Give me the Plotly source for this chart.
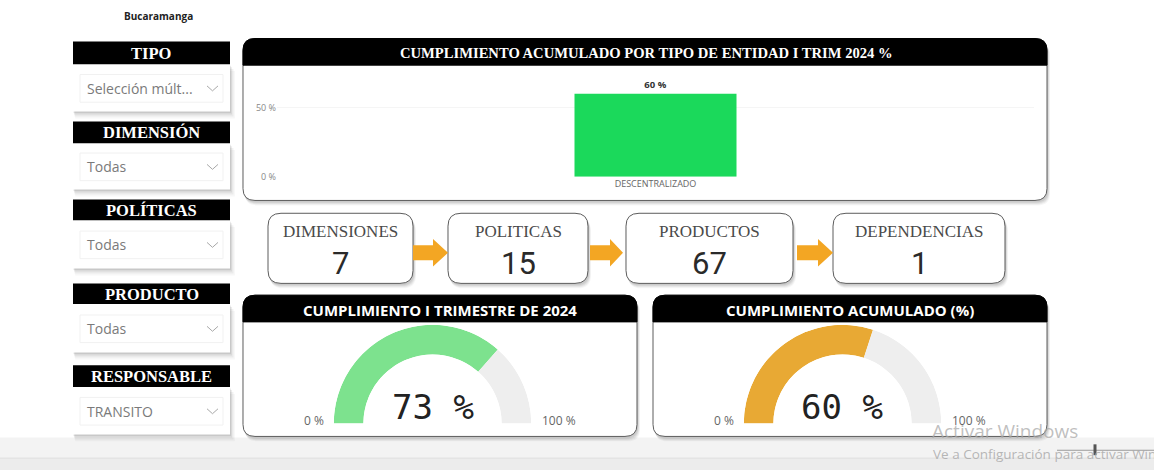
import plotly.graph_objects as go

W, H = 1154, 476

# ---------------- data ----------------
report_title = "Bucaramanga"
slicer_titles = ["TIPO", "DIMENSIÓN", "POLÍTICAS", "PRODUCTO", "RESPONSABLE"]
slicer_values = ["Selección múlt...", "Todas", "Todas", "Todas", "TRANSITO"]

bar_title = "CUMPLIMIENTO ACUMULADO POR TIPO DE ENTIDAD I TRIM 2024 %"
bar_categories = ["DESCENTRALIZADO"]
bar_values = [60]
bar_tick_values = [0, 50]
bar_tick_labels = ["0 %", "50 %"]

kpi_labels = ["DIMENSIONES", "POLITICAS", "PRODUCTOS", "DEPENDENCIAS"]
kpi_values = [7, 15, 67, 1]

gauge_titles = ["CUMPLIMIENTO I TRIMESTRE DE 2024", "CUMPLIMIENTO ACUMULADO (%)"]
gauge_values = [73, 60]
gauge_min = 0
gauge_max = 100
gauge_colors = ["#7DE28E", "#E8A934"]

watermark_1 = "Activar Windows"
watermark_2 = "Ve a Configuración para activar Windows."


# ---------------- helpers ----------------
def fx(x):
    return x / W


def fy(y):
    return 1 - y / H


def P(x, y):
    return f"{fx(x):.5f},{fy(y):.5f}"


def rr_path(x0, y0, x1, y1, r, top=True, bottom=True):
    rt = r if top else 0
    rb = r if bottom else 0
    return (f"M {P(x0 + rt, y0)} L {P(x1 - rt, y0)} Q {P(x1, y0)} {P(x1, y0 + rt)} "
            f"L {P(x1, y1 - rb)} Q {P(x1, y1)} {P(x1 - rb, y1)} "
            f"L {P(x0 + rb, y1)} Q {P(x0, y1)} {P(x0, y1 - rb)} "
            f"L {P(x0, y0 + rt)} Q {P(x0, y0)} {P(x0 + rt, y0)} Z")


shapes = []
annotations = []


def add_path(path, fill, line_color="rgba(0,0,0,0)", lw=0):
    shapes.append(dict(type="path", path=path, xref="paper", yref="paper",
                       fillcolor=fill, line=dict(color=line_color, width=lw),
                       layer="below"))


def add_text(x, y, text, size, color, family, xanchor="center", bold=False):
    if bold:
        text = f"<b>{text}</b>"
    annotations.append(dict(x=fx(x), y=fy(y), xref="paper", yref="paper",
                            text=text, showarrow=False, xanchor=xanchor,
                            yanchor="middle",
                            font=dict(size=size, color=color, family=family)))


def shadow(x0, y0, x1, y1, r):
    for off, a in [(5, 0.035), (4, 0.05), (3, 0.06), (2, 0.07)]:
        add_path(rr_path(x0 + off * 0.4, y0 + off, x1 + off * 0.6, y1 + off, r),
                 f"rgba(0,0,0,{a})")


def card(x0, y0, x1, y1, r, header=None):
    shadow(x0, y0, x1, y1, r)
    add_path(rr_path(x0, y0, x1, y1, r), "white", "#5c5c5c", 1)
    if header is not None:
        add_path(rr_path(x0, y0, x1, y0 + header, r, top=True, bottom=False),
                 "black", "black", 1)


SERIF = "Liberation Serif"
SANS = "Open Sans"

# ---------------- background strips ----------------
shapes.append(dict(type="rect", xref="paper", yref="paper", x0=0, x1=1,
                   y0=fy(464), y1=fy(443), fillcolor="#F3F3F3",
                   line=dict(width=0), layer="below"))
shapes.append(dict(type="rect", xref="paper", yref="paper", x0=0, x1=1,
                   y0=0, y1=fy(464), fillcolor="#ECECEC",
                   line=dict(width=0), layer="below"))
shapes.append(dict(type="line", xref="paper", yref="paper", x0=0, x1=1,
                   y0=fy(464), y1=fy(464), line=dict(color="#DDDDDD", width=1),
                   layer="below"))

# ---------------- title ----------------
add_text(158, 16, report_title, 10, "#222", SANS, bold=True)

# ---------------- slicers ----------------
slicer_geom = [(42, 65, 113), (123, 145, 192), (202, 223, 272), (287, 308, 357), (370, 392, 440)]
for (hy0, hy1, pb), title, val in zip(slicer_geom, slicer_titles, slicer_values):
    for off, a in [(7, 0.03), (5, 0.05), (3, 0.07), (1.5, 0.08)]:
        add_path(rr_path(73 + off * 0.3, hy1 + off, 230 + off * 0.7, pb + off, 0),
                 f"rgba(0,0,0,{a})")
    add_path(rr_path(73, hy1, 230, pb, 0), "white")
    add_path(rr_path(73, hy0, 230, hy1, 0), "black")
    add_text(151.5, (hy0 + hy1) / 2 + 0.5, title, 16.5, "white", SERIF, bold=True)
    vy = (hy1 + pb) / 2 + 0.5
    add_path(rr_path(80, vy - 14, 223, vy + 14, 0), "white", "#F1F1F1", 1)
    add_text(85, vy, val, 14, "#7a7a7a", SANS, xanchor="left")
    shapes.append(dict(type="path", xref="paper", yref="paper",
                       path=f"M {P(207, vy - 2.5)} L {P(212.5, vy + 2.5)} L {P(218, vy - 2.5)}",
                       line=dict(color="#a8a8a8", width=1), layer="above"))

# ---------------- bar chart card ----------------
card(243, 39, 1047, 203, 12, header=27)
add_text(646, 53.5, bar_title, 14.6, "white", SERIF, bold=True)

y_top_val = 66
bar_y0_px = 179
bar_y1_px = bar_y0_px - y_top_val * 1.4

traces = []
traces.append(go.Bar(
    x=bar_categories, y=bar_values, width=0.214,
    marker=dict(color="#1BD95B", line=dict(width=0)),
    texttemplate="<b>%{y} %</b>", textposition="outside",
    textfont=dict(size=9.5, color="#333", family=SANS),
    cliponaxis=False, hoverinfo="skip", xaxis="x", yaxis="y"))

# ---------------- KPI cards ----------------
kpi_boxes = [(268, 413), (448, 588), (626, 793), (833, 1005)]
for (bx0, bx1), lab, val in zip(kpi_boxes, kpi_labels, kpi_values):
    card(bx0, 216, bx1, 287, 13)
    cx = (bx0 + bx1) / 2
    add_text(cx, 234, lab, 17, "#4a4a4a", SERIF)
    add_text(cx, 267, str(val), 31, "#2a2a2a", "Roboto")

arrows = [(413, 433, 448), (590, 610, 623), (797, 818, 833)]
for ax0, axh, ax1 in arrows:
    c = 256
    path = (f"M {P(ax0, c - 7.5)} L {P(axh, c - 7.5)} L {P(axh, c - 14)} L {P(ax1, c)} "
            f"L {P(axh, c + 14)} L {P(axh, c + 7.5)} L {P(ax0, c + 7.5)} Z")
    add_path(path, "#F3A623")

# ---------------- gauges ----------------
gauge_cards = [(243, 637), (653, 1047)]
R = 100
cy = 429
polars = {}
for i, ((gx0, gx1), title, val, col) in enumerate(zip(gauge_cards, gauge_titles, gauge_values, gauge_colors)):
    card(gx0, 299, gx1, 442, 12, header=27)
    add_text((gx0 + gx1) / 2, 314, title, 15, "white", SANS, bold=True)
    cx = gx0 + 189.5
    key = "polar" if i == 0 else f"polar{i + 1}"
    polars[key] = dict(
        domain=dict(x=[fx(cx - R), fx(cx + R)], y=[fy(cy), fy(cy - R)]),
        sector=[0, 180], hole=0.7, bgcolor="rgba(0,0,0,0)",
        radialaxis=dict(visible=False, range=[0, 1]),
        angularaxis=dict(visible=False, rotation=180, direction="clockwise"))
    span = 180.0 / (gauge_max - gauge_min)
    a_val = (val - gauge_min) * span
    traces.append(go.Barpolar(
        r=[1, 1], base=0,
        theta=[a_val / 2, (a_val + 180) / 2],
        width=[a_val, 180 - a_val],
        marker=dict(color=[col, "#EEEEEE"], line=dict(width=0)),
        hoverinfo="skip", subplot=key))
    add_text(cx, 412, f"{val} %", 34, "#222", "DejaVu Sans Mono")
    add_text(gx0 + 71, 426, f"{gauge_min} %", 12, "#666", SANS)
    add_text(gx0 + 316, 426, f"{gauge_max} %", 12, "#666", SANS)

# ---------------- watermark ----------------
add_text(930, 437, watermark_1, 19, "rgba(170,170,170,0.75)", SANS, xanchor="left")
add_text(931, 460, watermark_2, 13.5, "rgba(170,170,170,0.85)", SANS, xanchor="left")
shapes.append(dict(type="line", xref="paper", yref="paper", x0=fx(1057), x1=1,
                   y0=fy(456), y1=fy(456), line=dict(color="#9a9a9a", width=1), layer="above"))
shapes.append(dict(type="line", xref="paper", yref="paper", x0=fx(1095), x1=fx(1095),
                   y0=fy(450), y1=fy(461), line=dict(color="#555", width=3), layer="above"))

fig = go.Figure(data=traces)
fig.update_layout(
    width=W, height=H, autosize=False,
    margin=dict(l=0, r=0, t=0, b=0),
    paper_bgcolor="white", plot_bgcolor="rgba(0,0,0,0)",
    showlegend=False,
    shapes=shapes, annotations=annotations,
    xaxis=dict(domain=[fx(277), fx(1034)], range=[-0.5, 0.5], showgrid=False,
               zeroline=False, showline=False, ticks="",
               tickfont=dict(size=9, color="#666", family=SANS), fixedrange=True),
    yaxis=dict(domain=[fy(bar_y0_px), fy(bar_y1_px)], range=[0, y_top_val],
               tickvals=bar_tick_values, ticktext=bar_tick_labels,
               showgrid=True, gridcolor="#F5F5F5", zeroline=False, showline=False,
               ticks="", tickfont=dict(size=9, color="#888", family=SANS), fixedrange=True),
    **polars,
)

fig.write_html("out.html", config={"displayModeBar": False},
               post_script="document.body.style.margin='0';document.body.style.overflow='hidden';")
